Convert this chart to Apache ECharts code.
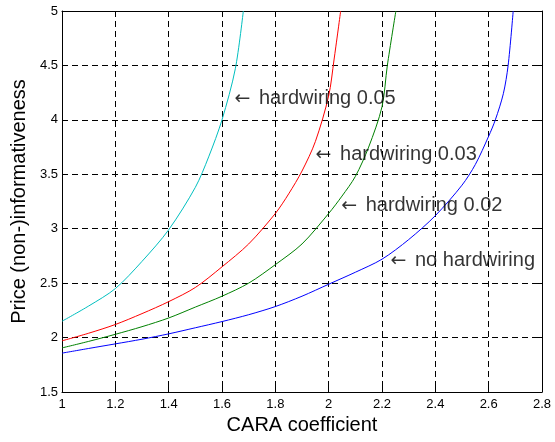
<!DOCTYPE html>
<html>
<head>
<meta charset="utf-8">
<script src="https://cdn.jsdelivr.net/npm/echarts@6/dist/echarts.min.js"></script>
<style>
  html, body { margin: 0; padding: 0; background: #fff; }
  #chart { width: 555px; height: 442px; }
</style>
</head>
<body>
<div id="chart"></div>
<script>
// Price (non-)informativeness against the CARA coefficient, one curve per hardwiring level
const xHard05 = [1.0, 1.1, 1.2, 1.3, 1.4, 1.5, 1.55, 1.6, 1.65, 1.68];
const yHard05 = [2.15, 2.29, 2.45, 2.70, 2.99, 3.38, 3.66, 4.0, 4.47, 5.0];

const xHard03 = [1.0, 1.1, 1.2, 1.3, 1.4, 1.5, 1.6, 1.7, 1.8, 1.85, 1.9, 1.95, 2.0, 2.02, 2.045];
const yHard03 = [1.97, 2.04, 2.12, 2.22, 2.33, 2.46, 2.65, 2.86, 3.14, 3.32, 3.53, 3.80, 4.22, 4.55, 5.0];

const xHard02 = [1.0, 1.1, 1.2, 1.3, 1.4, 1.5, 1.6, 1.7, 1.8, 1.9, 2.0, 2.05, 2.1, 2.15, 2.2, 2.22, 2.252];
const yHard02 = [1.905, 1.965, 2.03, 2.10, 2.18, 2.28, 2.38, 2.50, 2.67, 2.86, 3.14, 3.30, 3.48, 3.75, 4.12, 4.5, 5.0];

const xNoHard = [1.0, 1.1, 1.2, 1.3, 1.4, 1.5, 1.6, 1.7, 1.8, 1.9, 2.0, 2.1, 2.2, 2.3, 2.4, 2.5, 2.55, 2.6, 2.625, 2.655, 2.673, 2.692];
const yNoHard = [1.857, 1.90, 1.942, 1.985, 2.034, 2.09, 2.147, 2.21, 2.285, 2.38, 2.49, 2.60, 2.72, 2.90, 3.12, 3.40, 3.59, 3.85, 4.0, 4.24, 4.5, 5.0];

// Curve annotations: anchor point (left end of the arrow) and text
const noteX = [1.645, 1.949, 2.045, 2.23];
const noteY = [4.192, 3.678, 3.209, 2.704];
const noteText = ['hardwiring 0.05', 'hardwiring 0.03', 'hardwiring 0.02', 'no hardwiring'];

const xTicks = { min: 1, max: 2.8, step: 0.2 };
const yTicks = { min: 1.5, max: 5, step: 0.5 };

const FONT = "'Liberation Sans', Arial, sans-serif";

function pairs(xs, ys) { return xs.map((x, i) => [x, ys[i]]); }

const gridLine = { show: true, lineStyle: { color: '#000', width: 1, type: [6, 4] } };
const frameLine = { show: true, onZero: false, lineStyle: { color: '#000', width: 1 } };
const innerTick = { show: true, inside: true, length: 5, lineStyle: { color: '#000' } };

function xAxisDef(pos, main) {
  return {
    type: 'value', position: pos,
    min: xTicks.min, max: xTicks.max, interval: xTicks.step,
    axisLine: frameLine, axisTick: innerTick,
    splitLine: main ? gridLine : { show: false },
    axisLabel: main ? {
      show: true, margin: 6, color: '#000', fontSize: 13, fontFamily: FONT,
      formatter: v => String(Math.round(v * 10) / 10)
    } : { show: false },
    name: main ? 'CARA coefficient' : '',
    nameLocation: 'middle', nameGap: 16,
    nameTextStyle: { color: '#000', fontSize: 20, fontFamily: FONT }
  };
}

function yAxisDef(pos, main) {
  return {
    type: 'value', position: pos,
    min: yTicks.min, max: yTicks.max, interval: yTicks.step,
    axisLine: frameLine, axisTick: innerTick,
    splitLine: main ? gridLine : { show: false },
    axisLabel: main ? {
      show: true, margin: 4, color: '#000', fontSize: 13, fontFamily: FONT,
      formatter: v => String(Math.round(v * 10) / 10)
    } : { show: false },
    name: main ? 'Price (non-)informativeness' : '',
    nameLocation: 'middle', nameGap: 31,
    nameTextStyle: { color: '#000', fontSize: 20, fontFamily: FONT }
  };
}

function curve(name, xs, ys, color) {
  return {
    name, type: 'line', data: pairs(xs, ys),
    showSymbol: false, symbol: 'none', smooth: 0.3, clip: true,
    lineStyle: { color, width: 1 }, silent: true, animation: false
  };
}

const chart = echarts.init(document.getElementById('chart'), null, { renderer: 'canvas' });
chart.setOption({
  backgroundColor: '#fff',
  animation: false,
  grid: { left: 62, right: 13, top: 11, bottom: 50, containLabel: false },
  xAxis: [xAxisDef('bottom', true), xAxisDef('top', false)],
  yAxis: [yAxisDef('left', true), yAxisDef('right', false)],
  series: [
    curve('hardwiring 0.05', xHard05, yHard05, '#00BFBF'),
    curve('hardwiring 0.03', xHard03, yHard03, '#FF0000'),
    curve('hardwiring 0.02', xHard02, yHard02, '#008000'),
    curve('no hardwiring', xNoHard, yNoHard, '#0000FF'),
    {
      name: 'notes', type: 'scatter', symbol: 'circle', symbolSize: 1, silent: true,
      itemStyle: { color: 'rgba(0,0,0,0)' },
      data: noteX.map((x, i) => [x, noteY[i], noteText[i]]),
      label: {
        show: true, position: 'right', distance: 0,
        formatter: p => '{a|\u2190}{t| ' + p.data[2] + '}',
        verticalAlign: 'middle',
        rich: {
          a: { color: '#000', fontSize: 19, fontFamily: "'DejaVu Sans', sans-serif", padding: [0, 3, 0, 0] },
          t: { color: '#000', fontSize: 20, fontFamily: FONT }
        }
      },
      z: 5
    }
  ]
});
</script>
</body>
</html>
